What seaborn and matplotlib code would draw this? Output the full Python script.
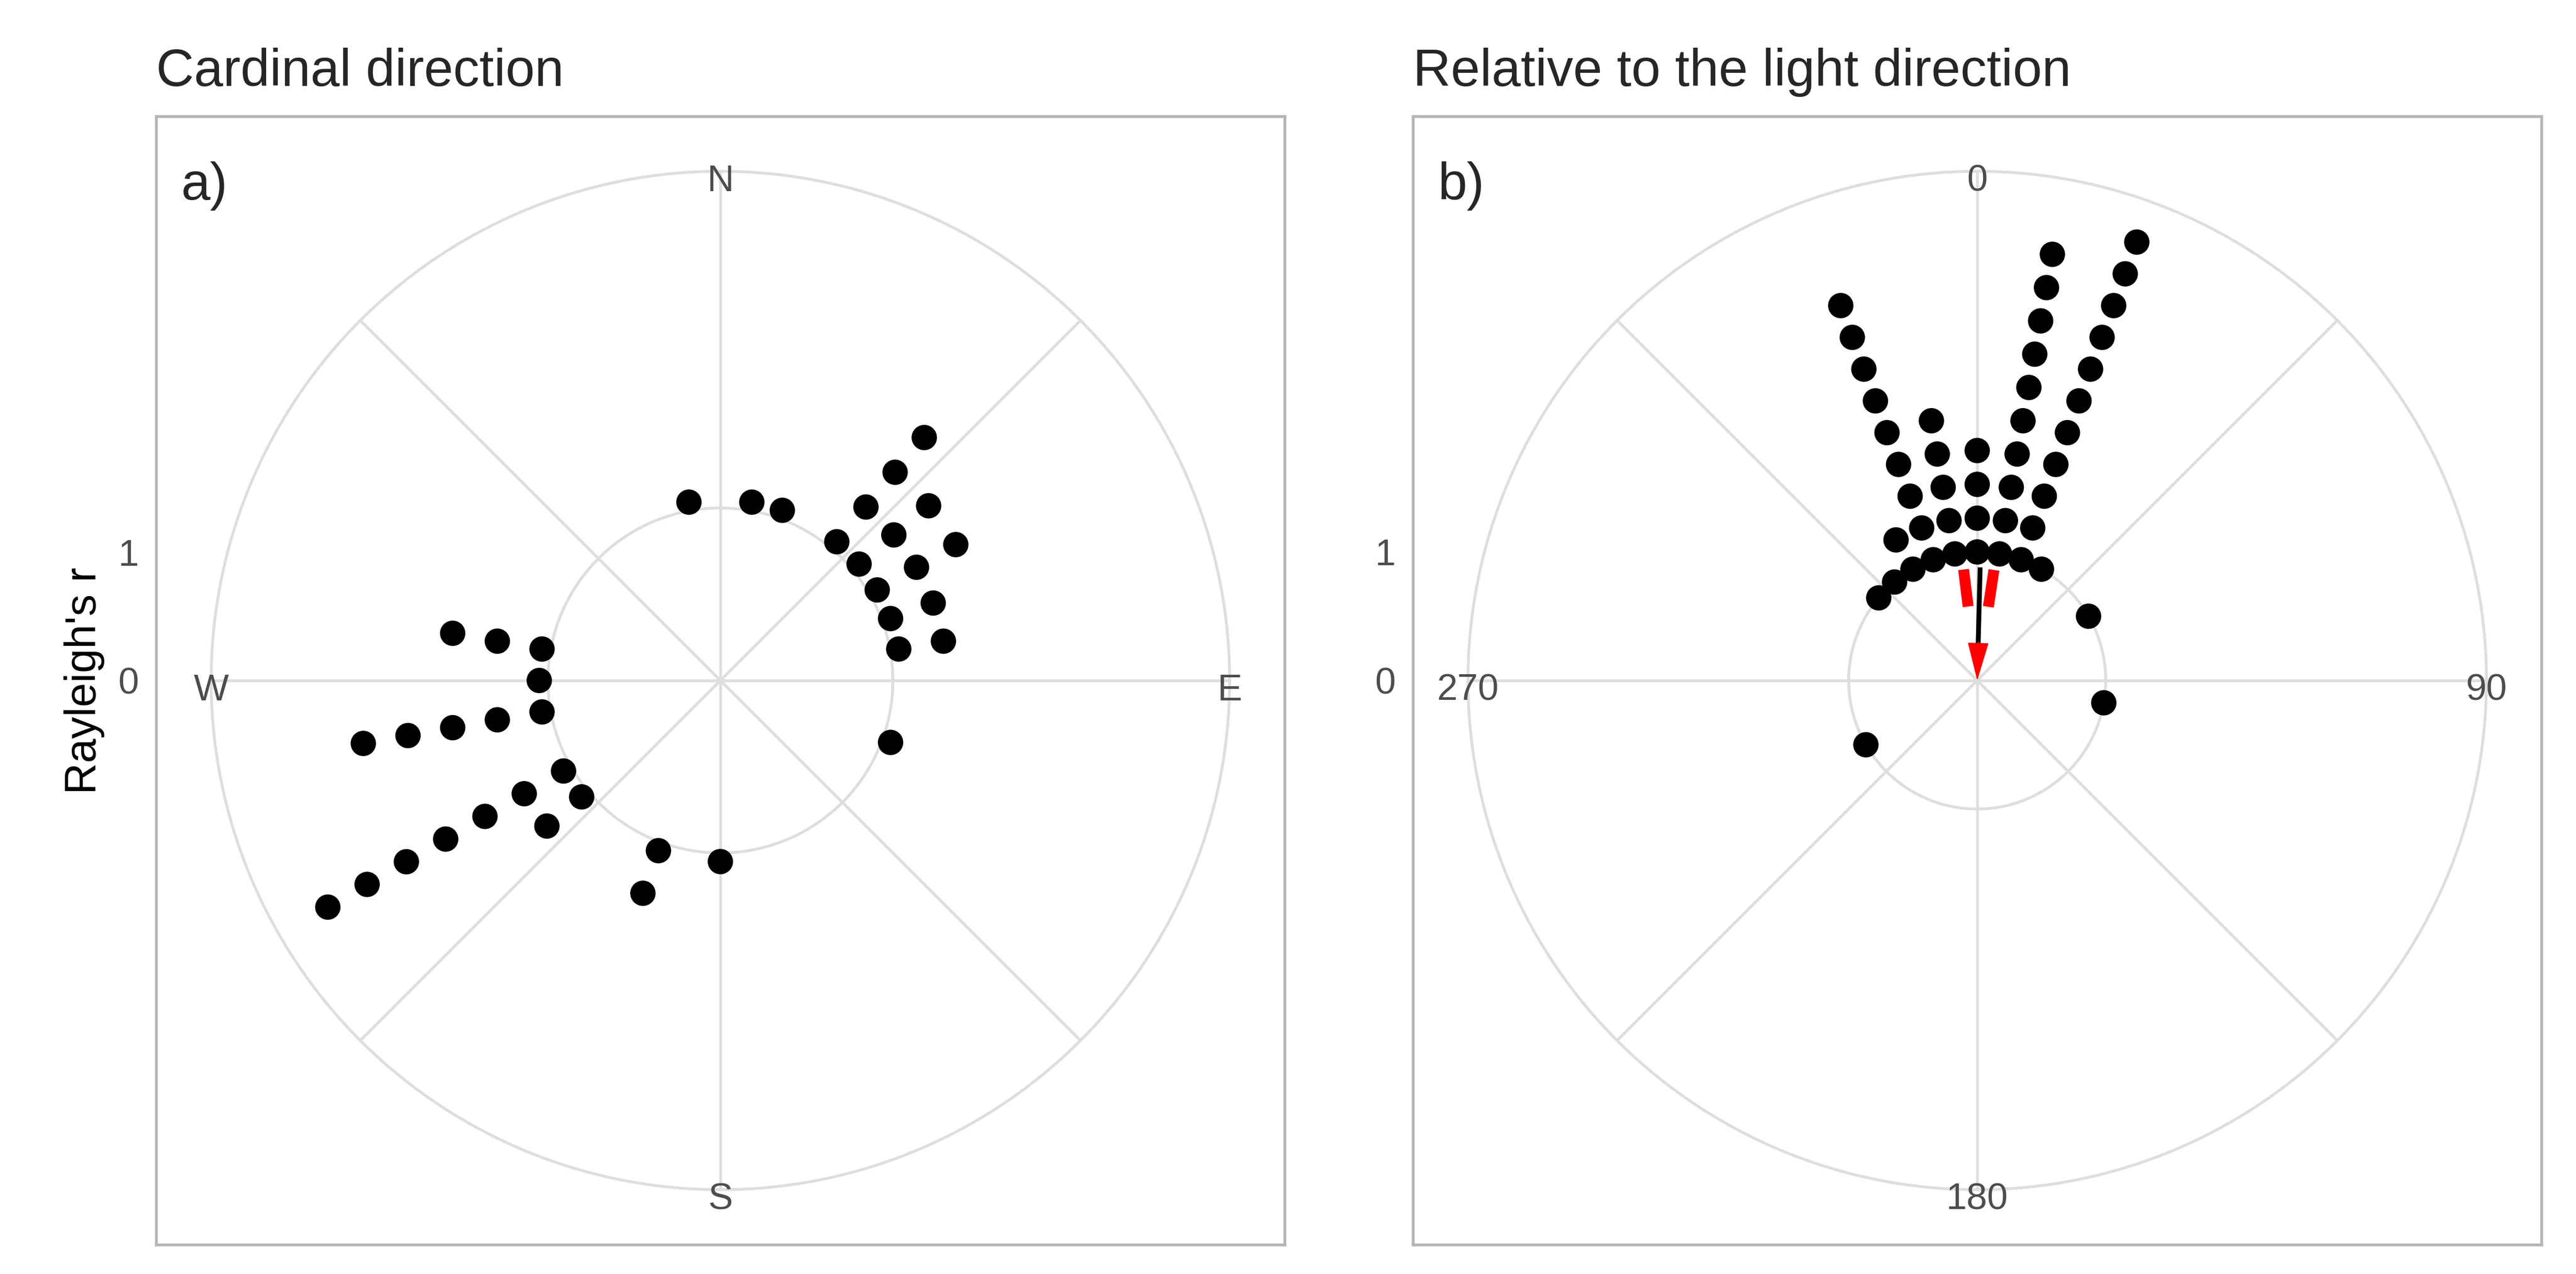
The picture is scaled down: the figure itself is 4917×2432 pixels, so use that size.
import numpy as np
import pandas as pd
import matplotlib
matplotlib.use("Agg")
import matplotlib.pyplot as plt
import seaborn as sns

# ── Data: stacked dots per 10° bin (angle clockwise from north) ─────────────
A_BINS   = [350, 10, 20, 40, 50, 60, 70, 80, 110, 180, 200, 230, 240, 260, 270, 280]
A_COUNTS = [1, 1, 1, 4, 3, 3, 2, 2, 1, 1, 2, 2, 7, 5, 1, 3]
B_BINS   = [310, 320, 330, 340, 350, 0, 10, 20, 30, 60, 100, 240]
B_COUNTS = [1, 1, 2, 9, 5, 4, 10, 11, 1, 1, 1, 1]

A_LABELS = ["N", "E", "S", "W"]
B_LABELS = ["0", "90", "180", "270"]

# mean vector in b (angle, length) and its confidence limits
B_MEAN_ANGLE, B_MEAN_R = 1.5, 0.88
B_CI = [-7.0, 8.6]

GRID = "#dedede"
BORDER = "#b5b5b5"
TXT = "#4d4d4d"

sns.set_theme(style="white")
plt.rcParams["font.family"] = ["Liberation Sans", "DejaVu Sans"]


def stack(bins, counts, base, step=0.263):
    rows = []
    for ang, n in zip(bins, counts):
        for k in range(n):
            rows.append((ang, base + step * k))
    df = pd.DataFrame(rows, columns=["angle", "r"])
    th = np.deg2rad(df["angle"])
    df["x"] = df["r"] * np.sin(th)
    df["y"] = df["r"] * np.cos(th)
    return df


def polar_frame(ax, outer, inner, labels, tick_one):
    t = np.linspace(0, 2 * np.pi, 400)
    for rad in (inner, outer):
        ax.plot(rad * np.sin(t), rad * np.cos(t), color=GRID, lw=1.3, zorder=1)
    for a in range(0, 360, 45):
        th = np.deg2rad(a)
        ax.plot([0, outer * np.sin(th)], [0, outer * np.cos(th)],
                color=GRID, lw=1.3, zorder=1)
    for a, lab in zip([0, 90, 180, 270], labels):
        th = np.deg2rad(a)
        ax.text(outer * np.sin(th), outer * np.cos(th) - 0.02 * outer, lab,
                ha="center", va="center", fontsize=17, color=TXT, zorder=2)
    half = outer * 343.5 / 310
    ax.set_xlim(-half, half)
    ax.set_ylim(-half, half)
    ax.set_aspect("equal")
    ax.set_xticks([])
    ax.set_yticks([0, tick_one])
    ax.set_yticklabels(["0", "1"], fontsize=17, color=TXT)
    ax.tick_params(axis="y", length=0, pad=8)
    ax.set_xlabel("")
    ax.set_ylabel("")
    for s in ax.spines.values():
        s.set_edgecolor(BORDER)
        s.set_linewidth(1.3)


fig = plt.figure(figsize=(16.39, 8.107), dpi=300)
ax_a = fig.add_axes([0.0606, 0.0219, 0.4381, 0.8879])
ax_b = fig.add_axes([0.5485, 0.0219, 0.4381, 0.8879])

# panel a: 1 unit = 105 px of the reference
da = stack(A_BINS, A_COUNTS, base=1.05)
polar_frame(ax_a, outer=310 / 105, inner=1.0, labels=A_LABELS, tick_one=78 / 105)
sns.scatterplot(data=da, x="x", y="y", ax=ax_a, color="black", s=135,
                edgecolor="none", zorder=3, legend=False)
ax_a.set_xlabel("")
ax_a.set_ylabel("Rayleigh's r", fontsize=20, color="black", labelpad=6)
ax_a.set_title("Cardinal direction", loc="left", fontsize=24, pad=14)
ax_a.text(0.022, 0.96, "a)", transform=ax_a.transAxes, fontsize=24,
          ha="left", va="top")

# panel b: 1 unit = 78.5 px of the reference
db = stack(B_BINS, B_COUNTS, base=1.0)
polar_frame(ax_b, outer=311 / 78.5, inner=1.0, labels=B_LABELS, tick_one=1.0)
sns.scatterplot(data=db, x="x", y="y", ax=ax_b, color="black", s=135,
                edgecolor="none", zorder=3, legend=False)
ax_b.set_xlabel("")
ax_b.set_ylabel("")
ax_b.set_title("Relative to the light direction", loc="left", fontsize=24, pad=14)
ax_b.text(0.022, 0.96, "b)", transform=ax_b.transAxes, fontsize=24,
          ha="left", va="top")

# mean vector + confidence limits
th = np.deg2rad(B_MEAN_ANGLE)
ax_b.plot([B_MEAN_R * np.sin(th), 0.28 * np.sin(th)],
          [B_MEAN_R * np.cos(th), 0.28 * np.cos(th)],
          color="black", lw=2.2, zorder=4, solid_capstyle="butt")
ax_b.annotate("", xy=(0, 0), xytext=(0.3 * np.sin(th), 0.3 * np.cos(th)),
              arrowprops=dict(arrowstyle="-|>,head_length=0.8,head_width=0.22",
                              color="red", lw=0.5, mutation_scale=20,
                              shrinkA=0, shrinkB=0), zorder=5)
for a in B_CI:
    t = np.deg2rad(a)
    ax_b.plot([0.58 * np.sin(t), 0.87 * np.sin(t)],
              [0.58 * np.cos(t), 0.87 * np.cos(t)],
              color="red", lw=5, zorder=4, solid_capstyle="butt")

fig.savefig("out.png", dpi=300)
